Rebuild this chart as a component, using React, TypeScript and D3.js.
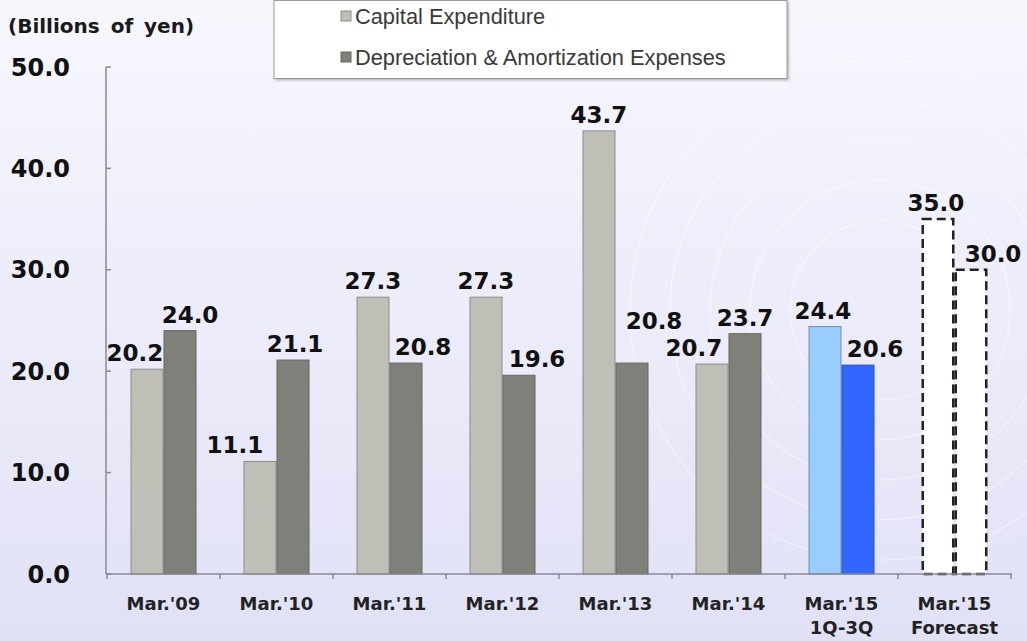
import React from "react";
import * as d3 from "d3";

// values, billions of yen
const CATEGORIES = ["Mar.'09", "Mar.'10", "Mar.'11", "Mar.'12", "Mar.'13", "Mar.'14", "Mar.'15 1Q-3Q", "Mar.'15 Forecast"];
const CATEGORY_LINES = [["Mar.'09"], ["Mar.'10"], ["Mar.'11"], ["Mar.'12"], ["Mar.'13"], ["Mar.'14"], ["Mar.'15", "1Q-3Q"], ["Mar.'15", "Forecast"]];
const CAPEX = [20.2, 11.1, 27.3, 27.3, 43.7, 20.7, 24.4, 35.0];
const DEPRECIATION = [24.0, 21.1, 20.8, 19.6, 20.8, 23.7, 20.6, 30.0];
const Y_TICKS = [0, 10, 20, 30, 40, 50];
const SERIES = ["Capital Expenditure", "Depreciation & Amortization Expenses"];

// hand-placed label nudges, as in the original slide
const CAPEX_LABEL_DX = [-12, -25, 0, 0, 0, -18, -2, -2];
const DEP_LABEL_DX = [10, 2, 17, 18, 22, 0, 17, 22];
const CAPEX_LABEL_DY = [0, 0, 0, 0, 0, 0, 0, 0];
const DEP_LABEL_DY = [0, 0, 0, 0, -26, 0, 0, 0];

const W = 1027;
const H = 641;
const X0 = 107;
const X1 = 1011;
const Y_ZERO = 574;
const Y_TOP = 67;

const VALUE_FONT = "'DejaVu Sans', Verdana, sans-serif";

type Style = { fill: string; stroke: string; dash?: string; sw: number };

function barStyle(series: number, i: number): Style {
  if (i === 7) return { fill: "#ffffff", stroke: "#222222", dash: "9 5", sw: 2.5 };
  if (i === 6) return series === 0 ? { fill: "#99ccff", stroke: "#6d8fb3", sw: 1 } : { fill: "#3366ff", stroke: "#2a4fc4", sw: 1 };
  return series === 0 ? { fill: "#bfbfb8", stroke: "#8c8c88", sw: 1 } : { fill: "#80807b", stroke: "#66665f", sw: 1 };
}

export default function App() {
  const x = d3.scaleBand<string>().domain(CATEGORIES).range([X0, X1]).paddingInner(0).paddingOuter(0);
  const inner = d3.scaleBand<string>().domain(SERIES).range([0, x.bandwidth()]).paddingInner(0).paddingOuter(0.712);
  const y = d3.scaleLinear().domain([0, 50]).range([Y_ZERO, Y_TOP]);

  const boundaries = CATEGORIES.map((c) => x(c) as number).concat([X1]);
  const seriesData = [CAPEX, DEPRECIATION];
  const labelDx = [CAPEX_LABEL_DX, DEP_LABEL_DX];
  const labelDy = [CAPEX_LABEL_DY, DEP_LABEL_DY];

  return (
    <svg width={W} height={H} style={{ position: "absolute", left: 0, top: 0, display: "block" }}>
      <defs>
        <linearGradient id="bg" x1="0" y1="0" x2="0" y2="1">
          <stop offset="0" stopColor="#f7f7fe" />
          <stop offset="1" stopColor="#e1e1f6" />
        </linearGradient>
        <filter id="shadow" x="-5%" y="-5%" width="110%" height="120%">
          <feDropShadow dx="1.5" dy="1.5" stdDeviation="1" floodColor="#777" floodOpacity="0.5" />
        </filter>
      </defs>
      <rect x={0} y={0} width={W} height={H} fill="url(#bg)" />

      {/* faint watermark rings */}
      <g fill="none" stroke="#ffffff" strokeOpacity={0.45} strokeWidth={1.2}>
        {[90, 130, 170, 210, 250].map((r) => (
          <circle key={r} cx={880} cy={310} r={r} />
        ))}
      </g>

      {/* unit title */}
      <text x={8} y={33} fontFamily={VALUE_FONT} fontWeight="bold" fontSize={20} wordSpacing={4} fill="#1a1a1a">
        (Billions of yen)
      </text>

      {/* legend */}
      <rect x={274} y={0.5} width={513} height={78} fill="#ffffff" stroke="#9a9a9a" strokeWidth={1} filter="url(#shadow)" />
      {SERIES.map((s, k) => (
        <g key={s}>
          <rect x={341} y={k === 0 ? 11 : 52} width={10} height={10} fill={k === 0 ? "#bfbfb8" : "#80807b"} stroke={k === 0 ? "#8c8c88" : "#66665f"} />
          <text x={355} y={k === 0 ? 24 : 65} fontFamily="'Liberation Sans', Arial, sans-serif" fontSize={21.8} fill="#3a3a3a">
            {s}
          </text>
        </g>
      ))}

      {/* y axis */}
      <line x1={X0 - 1} x2={X0 - 1} y1={Y_TOP} y2={Y_ZERO} stroke="#8a8a96" strokeWidth={1.5} />
      {Y_TICKS.map((t) => (
        <g key={t}>
          <line x1={X0 - 1} x2={X0 + 4} y1={y(t)} y2={y(t)} stroke="#8a8a96" strokeWidth={1.5} />
          <text x={70} y={y(t)} dy="0.36em" textAnchor="end" fontFamily={VALUE_FONT} fontWeight="bold" fontSize={24} fill="#111">
            {t.toFixed(1)}
          </text>
        </g>
      ))}

      {/* bars */}
      {CATEGORIES.map((c, i) =>
        SERIES.map((s, k) => {
          const v = seriesData[k][i];
          const st = barStyle(k, i);
          const bx = (x(c) as number) + (inner(s) as number);
          const bw = inner.bandwidth();
          return (
            <g key={c + s}>
              <rect
                x={bx + st.sw / 2}
                y={y(v)}
                width={bw - st.sw}
                height={Y_ZERO - y(v)}
                fill={st.fill}
                stroke={st.stroke}
                strokeWidth={st.sw}
                strokeDasharray={st.dash}
              />
              <text
                x={bx + bw / 2 + labelDx[k][i]}
                y={y(v) - 8 + labelDy[k][i]}
                textAnchor="middle"
                fontFamily={VALUE_FONT}
                fontWeight="bold"
                fontSize={23}
                fill="#111"
              >
                {v.toFixed(1)}
              </text>
            </g>
          );
        })
      )}

      {/* x axis */}
      <line x1={X0 - 1} x2={X1 + 1} y1={Y_ZERO} y2={Y_ZERO} stroke="#8a8a96" strokeWidth={1.5} />
      {boundaries.map((bx, i) => (
        <line key={i} x1={bx} x2={bx} y1={Y_ZERO} y2={Y_ZERO + 5} stroke="#8a8a96" strokeWidth={1.5} />
      ))}
      {CATEGORIES.map((c, i) => (
        <text key={c} x={(x(c) as number) + x.bandwidth() / 2} textAnchor="middle" fontFamily={VALUE_FONT} fontWeight="bold" fontSize={18} fill="#222">
          {CATEGORY_LINES[i].map((ln, j) => (
            <tspan key={j} x={(x(c) as number) + x.bandwidth() / 2} y={610 + j * 24}>
              {ln}
            </tspan>
          ))}
        </text>
      ))}
    </svg>
  );
}
